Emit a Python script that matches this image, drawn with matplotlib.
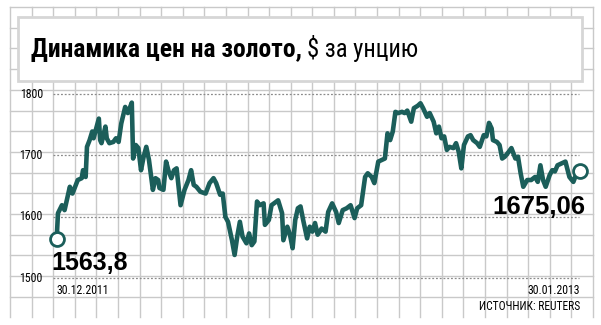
import numpy as np
import pandas as pd
import matplotlib
matplotlib.use("Agg")
import matplotlib.pyplot as plt
from matplotlib.patches import Rectangle

# цена золота, $ за унцию
start = pd.Timestamp("2011-12-30")
day_offset = [0, 1, 4, 6, 10, 12, 16, 19, 20, 22, 23, 25, 27, 28, 30, 32, 33, 34, 37, 38,
              40, 43, 45, 47, 49, 52, 54, 57, 58, 60, 62, 64, 66, 68, 70, 73, 75, 77, 78, 81,
              83, 85, 87, 89, 91, 94, 96, 97, 100, 102, 104, 106, 109, 113, 116, 119, 121, 124, 126, 128,
              130, 133, 135, 137, 139, 141, 144, 146, 148, 150, 152, 154, 157, 158, 161, 163, 168, 171, 172, 175,
              177, 179, 181, 183, 185, 187, 190, 192, 194, 196, 198, 201, 204, 206, 209, 212, 214, 217, 220, 223,
              226, 228, 231, 234, 236, 239, 241, 244, 247, 249, 251, 253, 255, 257, 259, 262, 264, 266, 269, 271,
              274, 276, 278, 281, 283, 286, 288, 290, 292, 294, 296, 298, 301, 303, 305, 307, 309, 312, 314, 316,
              319, 321, 324, 326, 328, 330, 331, 334, 336, 338, 340, 343, 345, 348, 350, 352, 354, 357, 360, 363,
              365, 367, 369, 371, 374, 376, 378, 380, 383, 386, 389, 392, 395, 397]
price = [1563.8, 1606, 1619, 1611, 1649, 1638, 1660, 1663, 1676, 1665, 1714, 1725, 1739, 1728, 1744, 1760, 1725, 1720, 1747, 1728,
         1720, 1722, 1728, 1722, 1752, 1779, 1769, 1786, 1695, 1717, 1712, 1676, 1698, 1714, 1693, 1644, 1663, 1660, 1647, 1644,
         1690, 1674, 1663, 1676, 1679, 1619, 1636, 1644, 1660, 1676, 1652, 1649, 1641, 1638, 1655, 1663, 1655, 1636, 1638, 1600,
         1592, 1562, 1538, 1568, 1592, 1568, 1557, 1573, 1554, 1560, 1625, 1619, 1622, 1587, 1595, 1619, 1627, 1606, 1562, 1584,
         1571, 1549, 1595, 1614, 1617, 1595, 1565, 1584, 1576, 1590, 1571, 1581, 1576, 1608, 1622, 1608, 1590, 1611, 1614, 1619,
         1598, 1614, 1619, 1665, 1671, 1665, 1655, 1690, 1693, 1695, 1736, 1725, 1739, 1771, 1769, 1771, 1769, 1773, 1755, 1777,
         1781, 1785, 1777, 1763, 1769, 1755, 1736, 1747, 1728, 1731, 1709, 1714, 1712, 1720, 1706, 1679, 1717, 1731, 1733, 1725,
         1720, 1714, 1733, 1731, 1753, 1744, 1725, 1722, 1717, 1695, 1698, 1706, 1712, 1695, 1698, 1671, 1649, 1660, 1660, 1665,
         1657, 1684, 1660, 1649, 1668, 1676, 1674, 1684, 1687, 1690, 1665, 1657, 1674, 1675.06]
dates = start + pd.to_timedelta(day_offset, unit="D")

y_ticks = [1500, 1600, 1700, 1800]
title_bold = "Динамика цен на золото,"
title_rest = "$ за унцию"
first_label = "1563,8"
last_label = "1675,06"
date_first = "30.12.2011"
date_last = "30.01.2013"
source = "ИСТОЧНИК: REUTERS"

plt.rcParams['font.family'] = ['Roboto Condensed', 'DejaVu Sans']
big_font = ['Liberation Sans', 'DejaVu Sans']

teal = "#1b5e5a"
grid_c = "#c9c9c9"

W, H = 601, 325
fig = plt.figure(figsize=(W / 100, H / 100), dpi=100)
rend = fig.canvas.get_renderer()

# фон "в клетку"
bg = fig.add_axes([0, 0, 1, 1])
bg.set_xlim(0, W)
bg.set_ylim(H, 0)
bg.axis("off")
for x in np.linspace(10, 593, 28):
    bg.plot([x, x], [7, 317], color=grid_c, lw=1, zorder=1)
for y in np.linspace(7, 7 + 20.7 * 14, 15):
    bg.plot([10, 593], [y, y], color=grid_c, lw=1, zorder=1)
bg.add_patch(Rectangle((18, 17), 564, 64, fc="white", ec="#d6d6d6", lw=2, zorder=3))

# заголовок: подгоняем ширину под оригинал
t1 = bg.text(31, 57, title_bold, fontsize=17, fontweight="black", va="baseline", ha="left", zorder=4)
w1 = t1.get_window_extent(rend).width
t1.set_fontsize(17 * 272 / w1)
x_end = t1.get_window_extent(rend).x1
t2 = bg.text(x_end + 5, 57, title_rest, fontsize=16, va="baseline", ha="left", zorder=4)
w2 = t2.get_window_extent(rend).width
t2.set_fontsize(16 * 112 / w2)

# график
ax = fig.add_axes([10 / W, 8 / H, 583 / W, 310 / H])
ax.patch.set_alpha(0)
ax.axis("off")
day = pd.Timedelta(days=1)
ax.set_xlim(start - 35.4 * day, start + 406.9 * day)
ax.set_ylim(1437, 1941.7)

ax.hlines(y_ticks, start - 3 * day, start + 396 * day, colors="#8a8a8a", lw=0.9,
          linestyles=(0, (1.5, 1.5)), zorder=2)
for v in y_ticks:
    ax.text(start - 10.4 * day, v, str(v), ha="right", va="center", fontsize=8.6)

ax.plot(dates, price, color=teal, lw=3.3, solid_joinstyle="round", zorder=3)
ax.plot([dates[0], dates[-1]], [price[0], price[-1]], "o", ms=10, mfc="white",
        mec=teal, mew=2, zorder=4)

ax.text(start - 3.8 * day, 1525, first_label, fontsize=18, fontweight="bold",
        family=big_font, ha="left", va="center")
ax.text(start + 400.8 * day, 1616.6, last_label, fontsize=18.5, fontweight="bold",
        family=big_font, ha="right", va="center")
ax.text(start - 0.5 * day, 1480, date_first, fontsize=8.5, ha="left", va="center")
ax.text(start + 397 * day, 1480, date_last, fontsize=8.5, ha="right", va="center")
ax.text(start + 397.5 * day, 1453.7, source, fontsize=8.3, ha="right", va="center")

fig.savefig("out.png", dpi=100)
